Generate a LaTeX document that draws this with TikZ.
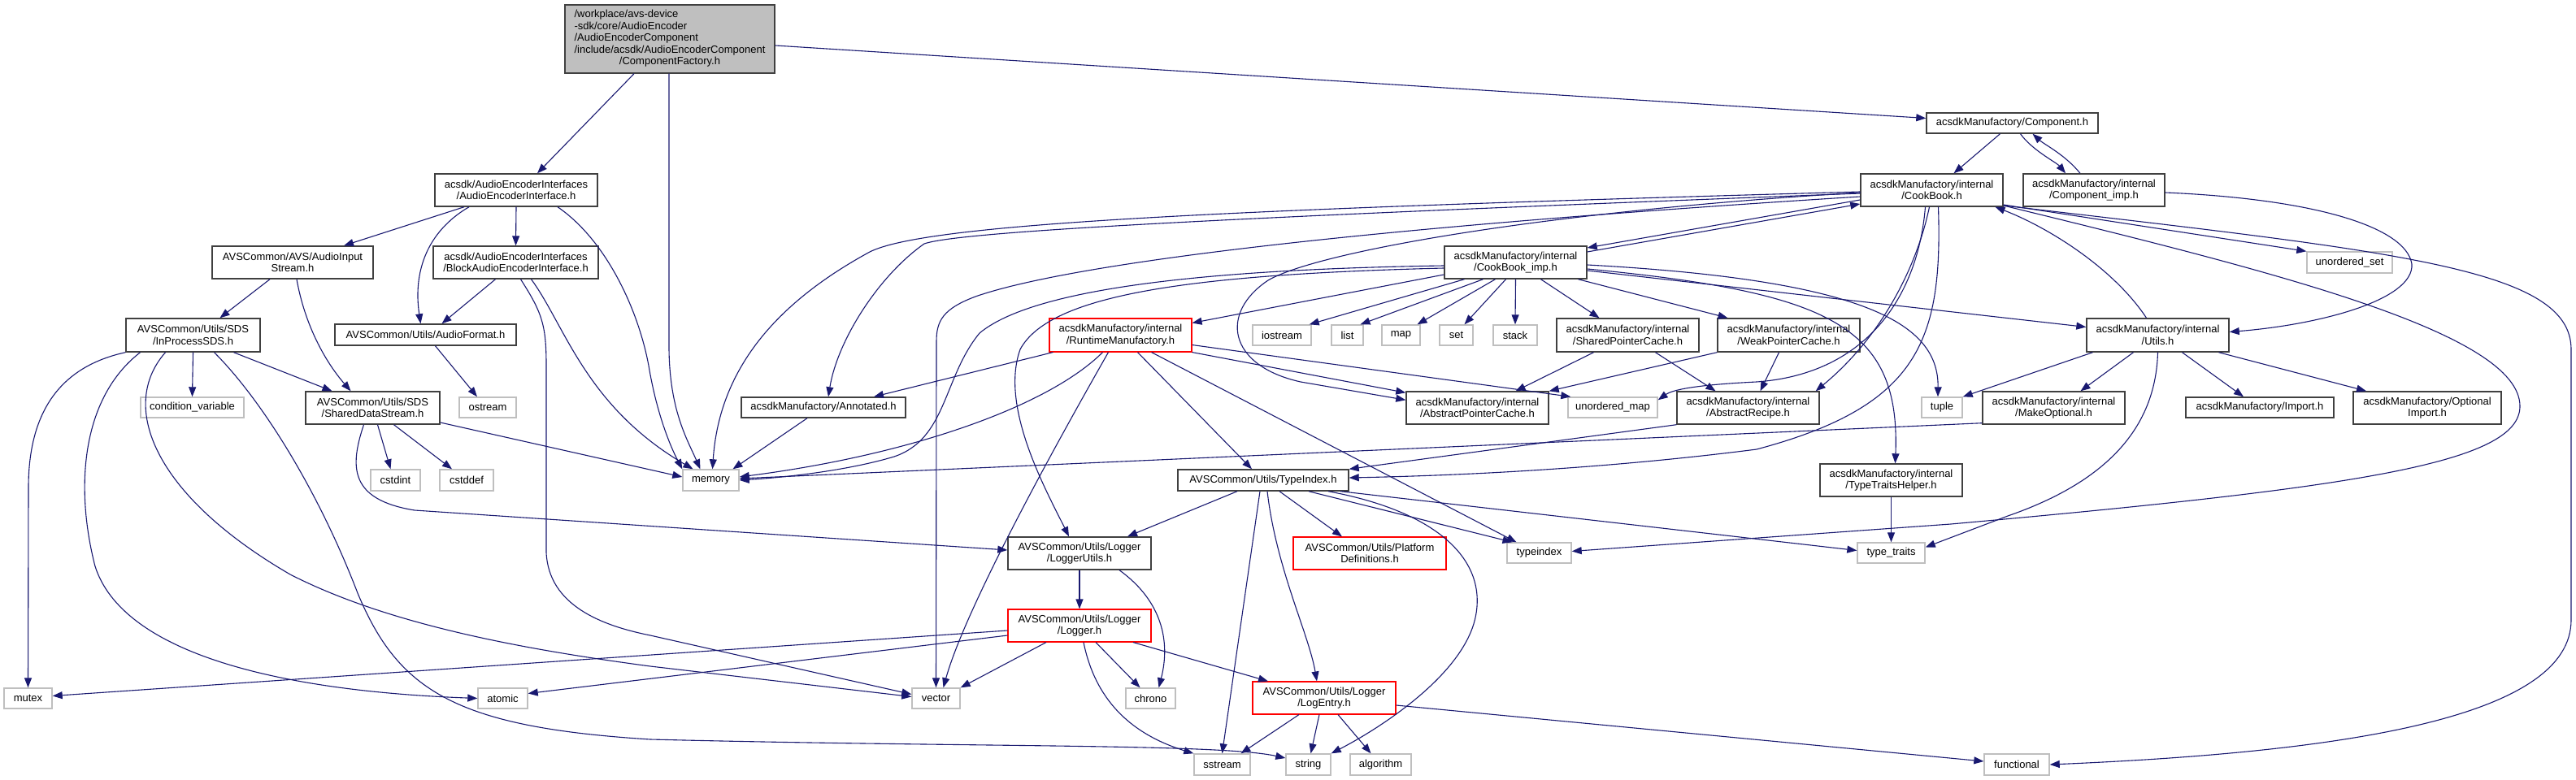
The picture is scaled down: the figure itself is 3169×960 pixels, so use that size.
\documentclass[tikz,border=0pt]{standalone}
\usepackage{fontspec}
\setmainfont{Liberation Sans}
\usetikzlibrary{arrows.meta}
\definecolor{edgec}{HTML}{191970}
\definecolor{bdk}{HTML}{404040}
\definecolor{bgr}{HTML}{BFBFBF}
\newcommand\nf{\fontsize{13}{14.5}\selectfont}
\tikzset{
  base/.style={line width=1.4pt, fill=white, inner sep=0pt, align=center, font=\nf, text=black},
  bk/.style={base, draw=bdk},
  gy/.style={base, draw=bgr},
  rd/.style={base, draw=red, line width=1.1pt},
  mainbox/.style={base, draw=bdk, fill=bgr},
  mw/.style={minimum width=#1},
  mh/.style={minimum height=#1},
  e/.style={draw=edgec, line width=1.1pt, -{Triangle[length=12pt,width=9pt]}}
}
\begin{document}
\begin{tikzpicture}[x=1pt,y=-1pt]
\useasboundingbox (0,0) rectangle (3169,960);
% ---------- nodes ----------
\node[mainbox,mw=258,mh=84] (main) at (824,48) {\begin{tabular}{@{}l@{}}/workplace/avs-device\\-sdk/core/AudioEncoder\\/AudioEncoderComponent\\/include/acsdk/AudioEncoderComponent\\\multicolumn{1}{@{}c@{}}{/ComponentFactory.h}\end{tabular}};
\node[bk,mw=200,mh=40] (aei) at (635,234) {acsdk/AudioEncoderInterfaces\\/AudioEncoderInterface.h};
\node[bk,mw=198,mh=40] (ais) at (360,323) {AVSCommon/AVS/AudioInput\\Stream.h};
\node[bk,mw=203,mh=40] (baei) at (634.5,323) {acsdk/AudioEncoderInterfaces\\/BlockAudioEncoderInterface.h};
\node[bk,mw=165,mh=41] (ipsds) at (237.5,412.5) {AVSCommon/Utils/SDS\\/InProcessSDS.h};
\node[bk,mw=223,mh=26] (afmt) at (523.5,412) {AVSCommon/Utils/AudioFormat.h};
\node[gy,mw=127,mh=25] (condvar) at (236.5,501.5) {condition\_variable};
\node[bk,mw=165,mh=40] (sds) at (458.5,502) {AVSCommon/Utils/SDS\\/SharedDataStream.h};
\node[gy,mw=70,mh=25] (ostream) at (600,501.5) {ostream};
\node[gy,mw=61,mh=26] (cstdint) at (486.5,591) {cstdint};
\node[gy,mw=66,mh=26] (cstddef) at (574,591) {cstddef};
\node[gy,mw=69,mh=26] (memory) at (874.5,591) {memory};
\node[bk,mw=202,mh=25] (annot) at (1013,501.5) {acsdkManufactory/Annotated.h};
\node[rd,mw=175,mh=41] (rm) at (1378.5,412.5) {acsdkManufactory/internal\\/RuntimeManufactory.h};
\node[gy,mw=72,mh=25] (iostream) at (1577,412.5) {iostream};
\node[gy,mw=39,mh=25] (list) at (1657.5,412.5) {list};
\node[gy,mw=47,mh=25] (map) at (1723.5,412.5) {map};
\node[gy,mw=41,mh=25] (set) at (1791.5,412.5) {set};
\node[gy,mw=54,mh=25] (stack) at (1864,412.5) {stack};
\node[bk,mw=175,mh=41] (spc) at (2002.5,412.5) {acsdkManufactory/internal\\/SharedPointerCache.h};
\node[bk,mw=175,mh=41] (wpc) at (2200.5,412.5) {acsdkManufactory/internal\\/WeakPointerCache.h};
\node[bk,mw=175,mh=40] (cbimp) at (1864.5,323) {acsdkManufactory/internal\\/CookBook\_imp.h};
\node[bk,mw=175,mh=40] (cb) at (2376.5,234) {acsdkManufactory/internal\\/CookBook.h};
\node[bk,mw=211,mh=25] (comp) at (2475.5,151.5) {acsdkManufactory/Component.h};
\node[bk,mw=174,mh=40] (compimp) at (2576,234) {acsdkManufactory/internal\\/Component\_imp.h};
\node[gy,mw=105,mh=26] (uset) at (2890.5,323) {unordered\_set};
\node[bk,mw=175,mh=41] (utils) at (2654.5,412.5) {acsdkManufactory/internal\\/Utils.h};
\node[gy,mw=50,mh=25] (tuple) at (2389,501.5) {tuple};
\node[bk,mw=175,mh=40] (mkopt) at (2526.5,502) {acsdkManufactory/internal\\/MakeOptional.h};
\node[bk,mw=182,mh=25] (import) at (2780,501.5) {acsdkManufactory/Import.h};
\node[bk,mw=182,mh=40] (optimport) at (2986,502) {acsdkManufactory/Optional\\Import.h};
\node[bk,mw=175,mh=40] (apc) at (1817.5,502) {acsdkManufactory/internal\\/AbstractPointerCache.h};
\node[gy,mw=110,mh=25] (umap) at (1984,501.5) {unordered\_map};
\node[bk,mw=175,mh=40] (arecipe) at (2150.5,502) {acsdkManufactory/internal\\/AbstractRecipe.h};
\node[bk,mw=210,mh=26] (tidx) at (1554,591) {AVSCommon/Utils/TypeIndex.h};
\node[bk,mw=175,mh=40] (tth) at (2326.5,591) {acsdkManufactory/internal\\/TypeTraitsHelper.h};
\node[bk,mw=176,mh=40] (lutils) at (1328,681) {AVSCommon/Utils/Logger\\/LoggerUtils.h};
\node[rd,mw=188,mh=40] (platdef) at (1685,681) {AVSCommon/Utils/Platform\\Definitions.h};
\node[gy,mw=79,mh=25] (typeindex) at (1893.5,680.5) {typeindex};
\node[gy,mw=83,mh=25] (ttraits) at (2326.5,680.5) {type\_traits};
\node[rd,mw=176,mh=40] (logger) at (1328,770) {AVSCommon/Utils/Logger\\/Logger.h};
\node[gy,mw=59,mh=25] (mutex) at (34.5,859.5) {mutex};
\node[gy,mw=61,mh=25] (atomic) at (618.5,859.5) {atomic};
\node[gy,mw=59,mh=25] (vector) at (1151.5,859.5) {vector};
\node[gy,mw=61,mh=25] (chrono) at (1415.5,859.5) {chrono};
\node[rd,mw=176,mh=40] (logentry) at (1629,859) {AVSCommon/Utils/Logger\\/LogEntry.h};
\node[gy,mw=69,mh=26] (sstream) at (1503.5,941) {sstream};
\node[gy,mw=55,mh=26] (string) at (1609.5,941) {string};
\node[gy,mw=75,mh=26] (algorithm) at (1698.5,941) {algorithm};
\node[gy,mw=80,mh=26] (functional) at (2481,941) {functional};
% ---------- edges ----------
% main
\draw[e] ([xshift=-44]main.south) -- ([xshift=26]aei.north);
\draw[e] ([xshift=-1]main.south) -- (823,430) .. controls (824,505) and (845,540) .. ([xshift=-13]memory.north);
\draw[e] ([yshift=-8]main.east) -- ([yshift=6]comp.west);
% AudioEncoderInterface
\draw[e] ([xshift=-64]aei.south) -- ([xshift=63]ais.north);
\draw[e] (aei.south) -- (baei.north);
\draw[e] ([xshift=-58]aei.south) .. controls (525,285) and (508,335) .. ([xshift=-6]afmt.north);
\draw[e] ([xshift=51]aei.south) .. controls (745,295) and (785,380) .. (798,450) .. controls (808,510) and (825,550) .. (memory.north west);
% BlockAudioEncoderInterface
\draw[e] ([xshift=-25]baei.south) -- ([xshift=20]afmt.north);
\draw[e] ([xshift=6]baei.south) .. controls (667,385) and (672,400) .. (672,450) -- (672,680) .. controls (675,745) and (740,770) .. (800,782) -- ([yshift=5]vector.west);
\draw[e] ([xshift=19]baei.south) .. controls (695,400) and (720,500) .. ([xshift=-22]memory.north);
% AudioInputStream
\draw[e] ([xshift=-28]ais.south) -- ([xshift=33]ipsds.north);
\draw[e] ([xshift=5]ais.south) .. controls (375,400) and (400,445) .. ([xshift=-27]sds.north);
% InProcessSDS
\draw[e] (ipsds.south west) .. controls (80,450) and (35,500) .. (35,600) -- (mutex.north);
\draw[e] ([xshift=-65]ipsds.south) .. controls (100,490) and (92,600) .. (117,697) .. controls (150,800) and (330,850) .. (atomic.west);
\draw[e] ([xshift=-34]ipsds.south) .. controls (145,500) and (190,610) .. (357,707) .. controls (480,770) and (650,800) .. (800,820) -- ([yshift=2]vector.west);
\draw[e] (ipsds.south) -- (condvar.north);
\draw[e] ([xshift=26]ipsds.south) .. controls (320,490) and (390,600) .. (440,730) .. controls (490,850) and (560,895) .. (800,910) .. controls (1200,920) and (1500,915) .. ([yshift=8]string.west);
\draw[e] ([xshift=50]ipsds.south) -- ([xshift=-50]sds.north);
% SharedDataStream
\draw[e] ([xshift=6]sds.south) -- ([xshift=-6]cstdint.north);
\draw[e] ([xshift=26]sds.south) -- ([xshift=-18]cstddef.north);
\draw[e] ([yshift=-18]sds.east) -- ([yshift=4]memory.west);
\draw[e] ([xshift=-11]sds.south) .. controls (430,575) and (430,615) .. (510,628) -- ([yshift=4]lutils.west);
% AudioFormat, Annotated
\draw[e] ([xshift=12]afmt.south) -- ([xshift=-13]ostream.north);
\draw[e] ([xshift=-20]annot.south) -- ([xshift=27]memory.north);
% RuntimeManufactory
\draw[e] ([xshift=-83]rm.south) -- ([xshift=62]annot.north);
\draw[e] ([xshift=-22]rm.south) .. controls (1290,500) and (1120,560) .. ([yshift=4]memory.east);
\draw[e] ([xshift=-15]rm.south) .. controls (1320,510) and (1190,740) .. ([xshift=9]vector.north);
\draw[e] ([xshift=21]rm.south) -- ([xshift=-14]tidx.north);
\draw[e] ([xshift=38]rm.south) -- ([xshift=-28]typeindex.north);
\draw[e] ([yshift=-12]rm.east) -- ([xshift=4]umap.north west);
\draw[e] (rm.south east) -- ([yshift=-2]apc.north west);
% CookBook_imp
\draw[e] ([yshift=-15]cbimp.west) -- ([yshift=15]rm.east);
\draw[e] ([xshift=-63]cbimp.south) -- ([xshift=-3]iostream.north east);
\draw[e] ([xshift=-40]cbimp.south) -- ([xshift=16]list.north);
\draw[e] ([xshift=-25]cbimp.south) -- ([xshift=20]map.north);
\draw[e] ([xshift=-12]cbimp.south) -- ([xshift=10]set.north);
\draw[e] (cbimp.south) -- (stack.north);
\draw[e] ([xshift=31]cbimp.south) -- ([xshift=-35]spc.north);
\draw[e] ([xshift=77]cbimp.south) -- ([xshift=-75]wpc.north);
\draw[e] ([yshift=-4]cbimp.west) .. controls (1450,332) and (1265,360) .. (1205,410) .. controls (1160,465) and (1165,540) .. (1100,562) .. controls (1040,580) and (960,588) .. (memory.east);
\draw[e] ([yshift=-7]cbimp.west) .. controls (1450,338) and (1290,365) .. (1255,430) .. controls (1230,500) and (1285,600) .. ([xshift=-13]lutils.north);
\draw[e] ([yshift=13]cbimp.east) -- ([yshift=-17]cb.west);
\draw[e] ([yshift=-10]cbimp.east) -- ([yshift=10]utils.west);
\draw[e] ([yshift=-8]cbimp.east) .. controls (2250,360) and (2338,400) .. ([xshift=5]tth.north);
\draw[e] ([yshift=-3]cbimp.east) .. controls (2300,345) and (2385,400) .. ([xshift=-5]tuple.north);
% CookBook
\draw[e] ([yshift=-12]cb.west) -- ([yshift=18]cbimp.east);
\draw[e] ([yshift=-2]cb.west) .. controls (1500,258) and (1140,275) .. (1070,310) .. controls (960,370) and (885,450) .. ([xshift=2]memory.north);
\draw[e] ([yshift=-4]cb.west) .. controls (1500,268) and (1180,285) .. (1137,300) .. controls (1080,340) and (1030,420) .. ([xshift=6]annot.north);
\draw[e] ([yshift=-8]cb.west) .. controls (1600,285) and (1300,330) .. (1200,365) .. controls (1160,380) and (1152,395) .. (1152,420) -- (vector.north);
\draw[e] ([yshift=-3]cb.west) .. controls (1900,260) and (1620,310) .. (1560,345) .. controls (1500,385) and (1510,450) .. (1600,470) -- ([yshift=-11]apc.north west);
\draw[e] ([yshift=-18]cb.east) -- (uset.north west);
\draw[e] ([yshift=-19]cb.east) .. controls (2800,335) and (3100,410) .. (3100,500) .. controls (3100,570) and (2900,600) .. (2400,645) -- ([yshift=2]typeindex.east);
\draw[e] ([yshift=-19]cb.east) .. controls (2950,310) and (3163,330) .. (3163,430) -- (3163,763) .. controls (3163,880) and (2900,925) .. (functional.east);
\draw[e] ([xshift=-3]cb.south) .. controls (2360,320) and (2320,410) .. ([xshift=-5]arecipe.north east);
\draw[e] ([xshift=-8]cb.south) .. controls (2360,360) and (2300,460) .. (2161,470) .. controls (2100,473) and (2060,478) .. ([yshift=-4]umap.north east);
\draw[e] ([xshift=8]cb.south) .. controls (2390,420) and (2360,500) .. (2161,553) .. controls (1950,580) and (1760,586) .. ([yshift=3]tidx.east);
% Component / Component_imp / Utils
\draw[e] ([xshift=-15]comp.south) -- ([xshift=27]cb.north);
\draw[e] ([xshift=10]comp.south) .. controls (2500,185) and (2530,200) .. ([xshift=-35]compimp.north);
\draw[e] ([xshift=-17]compimp.north) .. controls (2540,190) and (2515,178) .. ([xshift=25]comp.south);
\draw[e] ([yshift=-3]compimp.east) .. controls (2850,245) and (2960,280) .. (2967,325) .. controls (2970,370) and (2850,400) .. ([yshift=4]utils.east);
\draw[e] ([xshift=-14]utils.north) .. controls (2600,330) and (2520,280) .. ([xshift=78]cb.south);
\draw[e] ([xshift=-80]utils.south) -- (tuple.north east);
\draw[e] ([xshift=-30]utils.south) -- ([xshift=33]mkopt.north);
\draw[e] ([xshift=30]utils.south) -- ([xshift=-20]import.north);
\draw[e] ([xshift=75]utils.south) -- ([xshift=-75]optimport.north);
\draw[e] (utils.south) .. controls (2652,520) and (2600,590) .. (2470,635) -- ([yshift=7]ttraits.east);
\draw[e] ([yshift=2]mkopt.south west) -- ([yshift=2]memory.east);
% pointer caches / recipe
\draw[e] ([xshift=-42]spc.south) -- ([xshift=47]apc.north);
\draw[e] ([xshift=34]spc.south) -- ([xshift=-40]arecipe.north);
\draw[e] (wpc.south west) -- (apc.north east);
\draw[e] ([xshift=-12]wpc.south) -- ([xshift=15]arecipe.north);
\draw[e] (arecipe.south west) -- (tidx.north east);
\draw[e] (tth.south) -- (ttraits.north);
% TypeIndex
\draw[e] ([xshift=-32]tidx.south) -- ([xshift=59]lutils.north);
\draw[e] ([xshift=-4]tidx.south) -- (sstream.north);
\draw[e] ([xshift=5]tidx.south) .. controls (1570,700) and (1610,780) .. ([xshift=-9]logentry.north);
\draw[e] ([xshift=20]tidx.south) -- ([xshift=-34]platdef.north);
\draw[e] ([xshift=56]tidx.south) -- ([xshift=-33]typeindex.north);
\draw[e] ([xshift=95]tidx.south) -- ([yshift=3]ttraits.west);
\draw[e] ([xshift=80]tidx.south) .. controls (1770,630) and (1830,690) .. (1815,760) .. controls (1800,830) and (1700,895) .. (string.north east);
% Logger
\draw[e] (lutils.south) -- (logger.north);
\draw[e] ([xshift=49]lutils.south) .. controls (1430,740) and (1440,790) .. ([xshift=10]chrono.north);
\draw[e] ([yshift=-6]logger.west) -- ([yshift=3]mutex.east);
\draw[e] ([yshift=-12]logger.west) -- ([yshift=6]atomic.east);
\draw[e] ([xshift=-41]logger.south) -- (vector.north east);
\draw[e] ([xshift=20]logger.south) -- ([xshift=-13]chrono.north);
\draw[e] ([xshift=5]logger.south) .. controls (1345,850) and (1380,900) .. (sstream.north west);
\draw[e] ([xshift=66]logger.south) -- ([xshift=-69]logentry.north);
% LogEntry
\draw[e] ([xshift=-6]logentry.south) -- ([xshift=3]string.north);
\draw[e] ([xshift=17]logentry.south) -- ([xshift=-12]algorithm.north);
\draw[e] ([xshift=-31]logentry.south) -- ([xshift=23]sstream.north);
\draw[e] ([yshift=-9]logentry.east) -- ([yshift=4]functional.west);
\end{tikzpicture}
\end{document}
